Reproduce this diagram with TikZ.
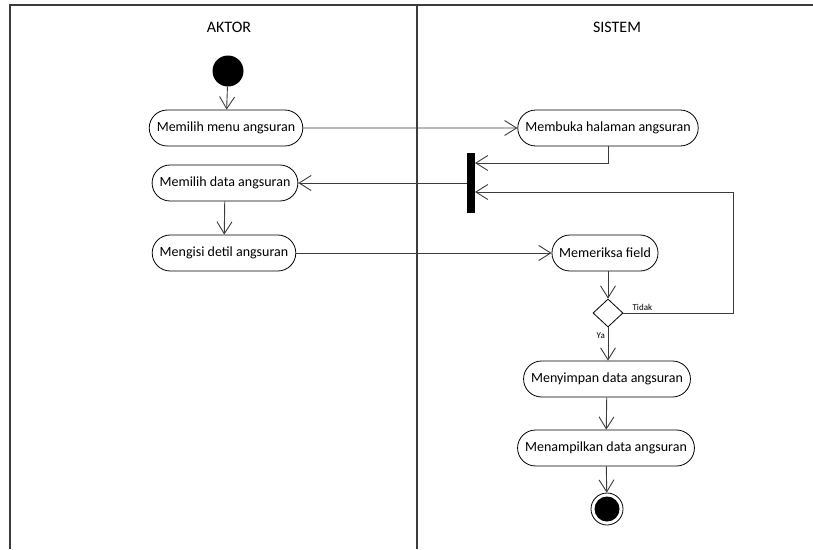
\documentclass[tikz,border=0pt]{standalone}
\usepackage{fontspec}
\setmainfont{Carlito}
\usetikzlibrary{arrows.meta,shapes.misc,shapes.geometric}

\definecolor{lineclr}{HTML}{3C3C3C}

\tikzset{
  activity/.style={rounded rectangle, draw=black, line width=0.8pt, minimum height=36pt,
    inner xsep=6.5pt, font=\fontsize{14}{16}\selectfont, fill=white},
  flow/.style={draw=lineclr, line width=0.9pt,
    -{Straight Barb[length=12pt,width=15pt,line width=0.9pt]}},
  lane/.style={draw=lineclr, line width=1.4pt},
  guard/.style={font=\fontsize{9}{10}\selectfont, inner sep=1pt},
}

\begin{document}
\begin{tikzpicture}[x=1pt,y=-1pt]
  \useasboundingbox (0,0) rectangle (813,549);

  % swimlane frame
  \draw[lane] (813,5) -- (10,5) -- (10,549);
  \draw[lane] (417,5) -- (417,549);
  \node[font=\fontsize{16}{18}\selectfont] (hAktor) at (229,27) {AKTOR};
  \node[font=\fontsize{16}{18}\selectfont] (hSistem) at (617,27) {SISTEM};

  % actor lane
  \node[circle, fill=black, minimum size=31pt, inner sep=0pt] (start) at (228,71) {};
  \node[activity] (pilihMenu) at (226,128) {Memilih menu angsuran};
  \node[activity] (pilihData) at (225,183) {Memilih data angsuran};
  \node[activity] (isiDetil) at (224,253) {Mengisi detil angsuran};

  % system lane
  \node[activity] (bukaHal) at (608,128) {Membuka halaman angsuran};
  \node[rectangle, fill=black, minimum width=8pt, minimum height=60pt, inner sep=0pt] (bar) at (471,183) {};
  \node[activity] (periksa) at (605,253) {Memeriksa field};
  \node[diamond, draw=black, line width=0.8pt, minimum width=30pt, minimum height=28pt, inner sep=0pt, fill=white] (cek) at (608,313) {};
  \node[activity] (simpan) at (607,379) {Menyimpan data angsuran};
  \node[activity] (tampil) at (606,448) {Menampilkan data angsuran};
  \node[circle, draw=black, line width=0.8pt, minimum size=32pt, inner sep=0pt] (finish) at (607,509) {};
  \node[circle, fill=black, minimum size=25pt, inner sep=0pt] (finishDot) at (finish) {};

  \coordinate (loopA) at (733,313);
  \coordinate (loopB) at (733,192);
  \coordinate (barIn1) at (475,163);
  \coordinate (barIn2) at (475,192);

  % control flows
  \draw[flow] (start) -- (pilihMenu);
  \draw[flow] (pilihMenu) -- (bukaHal);
  \draw[flow] (bukaHal.south) |- (barIn1);
  \draw[flow] (bar.west) -- (pilihData.east);
  \draw[flow] (pilihData) -- (isiDetil);
  \draw[flow] (isiDetil.east) -- (periksa.west);
  \draw[flow] (periksa.south -| cek) -- (cek);
  \draw[flow] (cek.east) -- (loopA) -- (loopB) -- (barIn2);
  \draw[flow] (cek) -- (simpan.north -| cek);
  \draw[flow] (simpan) -- (tampil);
  \draw[flow] (tampil) -- (finish);

  \node[guard, anchor=south west] (lblTidak) at ([xshift=8pt,yshift=1pt]cek.east) {Tidak};
  \node[guard, anchor=north east] (lblYa) at ([xshift=-2pt,yshift=-4pt]cek.south) {Ya};
\end{tikzpicture}
\end{document}
